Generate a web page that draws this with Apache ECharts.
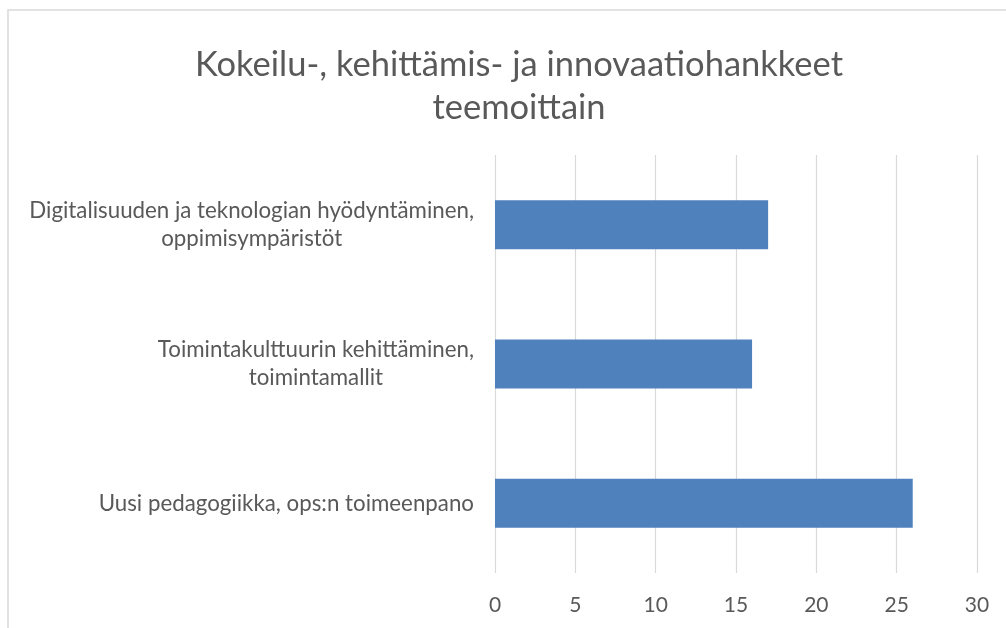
<!DOCTYPE html>
<html>
<head>
<meta charset="utf-8">
<script src="https://cdn.jsdelivr.net/npm/echarts@6/dist/echarts.min.js"></script>
<style>
  html, body { margin: 0; padding: 0; background: #fff; }
  #chart { width: 1006px; height: 628px; }
</style>
</head>
<body>
<div id="chart"></div>
<script>
// categories listed bottom-to-top (ECharts category y axis runs upward)
const categories = [
  'Uusi pedagogiikka, ops:n toimeenpano',
  'Toimintakulttuurin kehittäminen,\ntoimintamallit',
  'Digitalisuuden ja teknologian hyödyntäminen,\noppimisympäristöt'
]
const values = [26, 16, 17]
const xTicks = { min: 0, max: 30, interval: 5 }
const titleText = 'Kokeilu-, kehittämis- ja innovaatiohankkeet\nteemoittain'

const textColor = '#595959'
const fontFamily = 'Lato, "Open Sans", sans-serif'

var myChart = echarts.init(document.getElementById('chart'), null, { renderer: 'canvas' })

var option = {
  backgroundColor: '#fff',
  animation: false,
  graphic: [
    {
      type: 'rect',
      shape: { x: 8, y: 10, width: 1200, height: 800 },
      style: { fill: 'none', stroke: '#d9d9d9', lineWidth: 1.5 },
      silent: true,
      z: -10
    }
  ],
  title: {
    text: titleText,
    left: 514,
    textAlign: 'center',
    top: 38,
    textStyle: {
      color: textColor,
      fontFamily: fontFamily,
      fontWeight: 'normal',
      fontSize: 34.5,
      lineHeight: 43
    }
  },
  grid: {
    left: 495,
    right: 29,
    top: 155,
    bottom: 55,
    containLabel: false,
    outerBoundsMode: 'none'
  },
  xAxis: {
    type: 'value',
    min: xTicks.min,
    max: xTicks.max,
    interval: xTicks.interval,
    axisLine: { show: false },
    axisTick: { show: false },
    axisLabel: {
      color: textColor,
      fontFamily: fontFamily,
      fontSize: 21,
      margin: 22
    },
    splitLine: { lineStyle: { color: '#d9d9d9', width: 1.2 } }
  },
  yAxis: {
    type: 'category',
    data: categories,
    axisLine: { show: false },
    axisTick: { show: false },
    axisLabel: {
      margin: 21,
      formatter: function (v) {
        return v.split('\n').map(function (l) { return '{c|' + l + '}' }).join('\n')
      },
      rich: {
        c: {
          align: 'center',
          color: textColor,
          fontFamily: fontFamily,
          fontSize: 22.3,
          lineHeight: 28
        }
      }
    }
  },
  series: [
    {
      type: 'bar',
      data: values,
      barWidth: 49,
      itemStyle: { color: '#4f81bd' }
    }
  ]
}

myChart.setOption(option)
window.addEventListener('resize', myChart.resize)
</script>
</body>
</html>
